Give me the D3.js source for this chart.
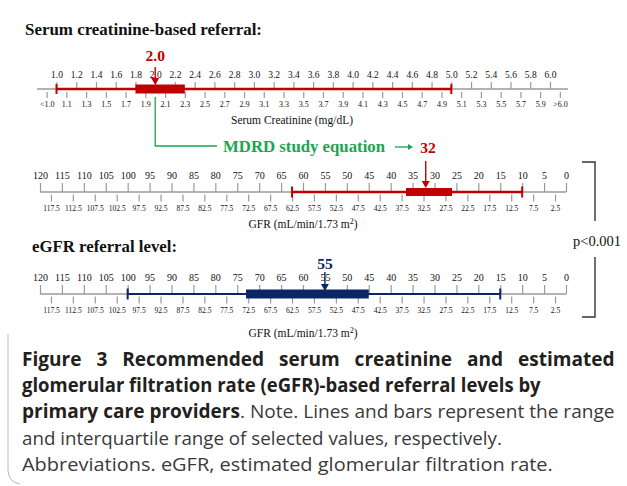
<!DOCTYPE html>
<html><head><meta charset="utf-8">
<script src="https://cdn.jsdelivr.net/npm/d3@7/dist/d3.min.js"></script>
<style>
html,body{margin:0;padding:0;background:#fff;}
svg{display:block;}
</style></head>
<body>
<script>
// ---------- data ----------
const creatTopTicks = [1.0,1.2,1.4,1.6,1.8,2.0,2.2,2.4,2.6,2.8,3.0,3.2,3.4,3.6,3.8,4.0,4.2,4.4,4.6,4.8,5.0,5.2,5.4,5.6,5.8,6.0];
const creatTopLabels = ["1.0","1.2","1.4","1.6","1.8","2.0","2.2","2.4","2.6","2.8","3.0","3.2","3.4","3.6","3.8","4.0","4.2","4.4","4.6","4.8","5.0","5.2","5.4","5.6","5.8","6.0"];
const creatBotTicks = [0.9,1.1,1.3,1.5,1.7,1.9,2.1,2.3,2.5,2.7,2.9,3.1,3.3,3.5,3.7,3.9,4.1,4.3,4.5,4.7,4.9,5.1,5.3,5.5,5.7,5.9,6.1];
const creatBotLabels = ["<1.0","1.1","1.3","1.5","1.7","1.9","2.1","2.3","2.5","2.7","2.9","3.1","3.3","3.5","3.7","3.9","4.1","4.3","4.5","4.7","4.9","5.1","5.3","5.5","5.7","5.9",">6.0"];
const gfrTopTicks = [120,115,110,105,100,95,90,85,80,75,70,65,60,55,50,45,40,35,30,25,20,15,10,5,0];
const gfrBotTicks = [117.5,112.5,107.5,102.5,97.5,92.5,87.5,82.5,77.5,72.5,67.5,62.5,57.5,52.5,47.5,42.5,37.5,32.5,27.5,22.5,17.5,12.5,7.5,2.5];
// [min, q1, median, q3, max]
const creatSummary = [1.0, 1.8, 2.0, 2.3, 5.0];
const mdrdSummary  = [62.5, 36.5, 32, 26, 10];   // GFR from MDRD equation (high -> low)
const egfrSummary  = [100, 73, 55, 45, 15];
const medianLabels = ["2.0", "32", "55"];
const captionLines = [
  [{t:"Figure 3 Recommended serum creatinine and estimated", b:true}],
  [{t:"glomerular filtration rate (eGFR)-based referral levels by", b:true}],
  [{t:"primary care providers", b:true},{t:". Note. Lines and bars represent the range", b:false}],
  [{t:"and interquartile range of selected values, respectively.", b:false}],
  [{t:"Abbreviations. eGFR, estimated glomerular filtration rate.", b:false}]
];

// ---------- drawing ----------
const W = 627, H = 486;
const svg = d3.select("body").append("svg").attr("width", W).attr("height", H);
const RED = "#c00000", BLUE = "#0b2566", GREEN = "#1aa64f", GRAY = "#9a9a9a";
const serif = "'Liberation Serif','Times New Roman',serif";

const xC = d3.scaleLinear().domain([1.0, 6.0]).range([56.5, 550]);
const xG = d3.scaleLinear().domain([120, 0]).range([40, 566]);

function ruler(scale, y, topV, topL, botV, botL, ext, o) {
  const g = svg.append("g");
  g.append("line").attr("x1", ext[0]).attr("x2", ext[1]).attr("y1", y).attr("y2", y)
    .attr("stroke", GRAY).attr("stroke-width", 1.3);
  const top = g.append("g").attr("transform", `translate(0,${y})`)
    .call(d3.axisTop(scale).tickValues(topV).tickSize(o.topLen).tickPadding(o.topPad)
      .tickFormat((d,i) => topL[i]));
  const bot = g.append("g").attr("transform", `translate(0,${y + o.botGap})`)
    .call(d3.axisBottom(scale).tickValues(botV).tickSize(o.botLen).tickPadding(o.botPad)
      .tickFormat((d,i) => botL[i]));
  [top, bot].forEach(a => {
    a.select(".domain").remove();
    a.selectAll(".tick line").attr("stroke", GRAY).attr("stroke-width", 1.2);
    a.selectAll(".tick text").attr("fill", "#111").attr("font-family", serif);
  });
  top.selectAll(".tick text").attr("font-size", o.topFont);
  bot.selectAll(".tick text").attr("font-size", o.botFont);
  return g;
}

function rangeMark(scale, y, s, color, lw, bh, capH) {
  const g = svg.append("g");
  g.append("line").attr("x1", scale(s[0])).attr("x2", scale(s[4])).attr("y1", y).attr("y2", y)
    .attr("stroke", color).attr("stroke-width", lw);
  [s[0], s[4]].forEach(v => g.append("line").attr("x1", scale(v)).attr("x2", scale(v))
    .attr("y1", y - capH/2).attr("y2", y + capH/2).attr("stroke", color).attr("stroke-width", 2));
  const a = Math.min(scale(s[1]), scale(s[3])), b = Math.max(scale(s[1]), scale(s[3]));
  g.append("rect").attr("x", a).attr("y", y - bh/2).attr("width", b - a).attr("height", bh).attr("fill", color);
}

function medianArrow(scale, v, y1, y2, color, label, ly, lx) {
  const x = scale(v);
  svg.append("line").attr("x1", x).attr("x2", x).attr("y1", y1).attr("y2", y2 - 5)
    .attr("stroke", color).attr("stroke-width", 1.4);
  svg.append("path").attr("d", `M${x-4},${y2-7}L${x+4},${y2-7}L${x},${y2}Z`).attr("fill", color);
  if (label) svg.append("text").attr("x", lx !== undefined ? lx : x).attr("y", ly).attr("text-anchor", "middle")
    .attr("font-family", serif).attr("font-weight", "bold").attr("font-size", 15.5).attr("fill", color).text(label);
}

function fitText(t, w) {
  const nat = t.node().getComputedTextLength();
  t.attr("textLength", w).attr("lengthAdjust", "spacingAndGlyphs");
}

// Title 1
svg.append("text").attr("x", 25).attr("y", 35).attr("font-family", serif).attr("font-weight", "bold")
  .attr("font-size", 17).attr("fill", "#111").text("Serum creatinine-based referral:").call(fitText, 237);

// Creatinine ruler
const yC = 89;
ruler(xC, yC, creatTopTicks, creatTopLabels, creatBotTicks, creatBotLabels, [37, 568],
  {topLen: 7, topPad: 4, botGap: 3, botLen: 6, botPad: 3, topFont: 9.5, botFont: 8});
rangeMark(xC, yC, creatSummary, RED, 2.6, 9, 10);
medianArrow(xC, creatSummary[2], 67, 85, RED, medianLabels[0], 61);
svg.append("text").attr("x", 292).attr("y", 124).attr("text-anchor", "middle").attr("font-family", serif)
  .attr("font-size", 11.5).attr("fill", "#111").text("Serum Creatinine (mg/dL)");

// Green connector
svg.append("path").attr("d", `M${xC(creatSummary[2])},97V146H217`).attr("fill", "none")
  .attr("stroke", GREEN).attr("stroke-width", 1.3);
svg.append("text").attr("x", 223).attr("y", 152).attr("font-family", serif).attr("font-weight", "bold")
  .attr("font-size", 16.5).attr("fill", GREEN).text("MDRD study equation").call(fitText, 162);
svg.append("line").attr("x1", 395).attr("x2", 409).attr("y1", 147).attr("y2", 147).attr("stroke", GREEN).attr("stroke-width", 1.3);
svg.append("path").attr("d", "M408,144L413,147L408,150Z").attr("fill", GREEN);

// MDRD GFR ruler
const yM = 192;
ruler(xG, yM, gfrTopTicks, gfrTopTicks.map(String), gfrBotTicks, gfrBotTicks.map(String), [40, 566],
  {topLen: 9, topPad: 4, botGap: 2.5, botLen: 7, botPad: 4, topFont: 10, botFont: 7.5});
rangeMark(xG, yM, mdrdSummary, RED, 2.6, 8, 11);
medianArrow(xG, mdrdSummary[2], 161, 188, RED, medianLabels[1], 153, 428);
svg.append("text").attr("x", 303).attr("y", 228).attr("text-anchor", "middle").attr("font-family", serif)
  .attr("font-size", 11.5).attr("fill", "#111")
  .call(t => { t.append("tspan").text("GFR (mL/min/1.73 m"); t.append("tspan").attr("dy", -4).attr("font-size", 8).text("2"); t.append("tspan").attr("dy", 4).text(")"); });

// eGFR title
svg.append("text").attr("x", 32).attr("y", 252).attr("font-family", serif).attr("font-weight", "bold")
  .attr("font-size", 17).attr("fill", "#111").text("eGFR referral level:").call(fitText, 145);

const yE = 294;
ruler(xG, yE, gfrTopTicks, gfrTopTicks.map(String), gfrBotTicks, gfrBotTicks.map(String), [40, 566],
  {topLen: 9, topPad: 4, botGap: 2.5, botLen: 7, botPad: 4, topFont: 10, botFont: 7.5});
rangeMark(xG, yE, egfrSummary, BLUE, 2, 9, 11);
medianArrow(xG, egfrSummary[2], 272, 291, BLUE, medianLabels[2], 269);
svg.append("text").attr("x", 303).attr("y", 337).attr("text-anchor", "middle").attr("font-family", serif)
  .attr("font-size", 11.5).attr("fill", "#111")
  .call(t => { t.append("tspan").text("GFR (mL/min/1.73 m"); t.append("tspan").attr("dy", -4).attr("font-size", 8).text("2"); t.append("tspan").attr("dy", 4).text(")"); });

// p-value bracket
svg.append("path").attr("d", "M582,162H595V221").attr("fill", "none").attr("stroke", "#333").attr("stroke-width", 1.4);
svg.append("path").attr("d", "M595,257V317H582").attr("fill", "none").attr("stroke", "#333").attr("stroke-width", 1.4);
svg.append("text").attr("x", 573).attr("y", 246).attr("font-family", serif).attr("font-size", 14.5)
  .attr("fill", "#111").text("p<0.001");

// panel border
svg.append("path").attr("d", "M8,334V470Q8,482 20,484").attr("fill", "none").attr("stroke", "#bbb").attr("stroke-width", 1);

// Caption
const capFont = "'Open Sans','Noto Sans',sans-serif";
const capTargets = [593, 519, 593, 480, 531];
const justify = [true, false, true, false, false];
const capTexts = captionLines.map((line, i) => {
  const t = svg.append("text").attr("x", 0).attr("y", 0)
    .attr("font-family", capFont).attr("font-size", 19);
  line.forEach(s => t.append("tspan").attr("font-weight", s.b ? "bold" : "normal")
    .attr("fill", s.b ? "#231f20" : "#3a3a3a").text(s.t));
  return t;
});
// horizontal condensation ratio from the non-justified lines
const ratios = capTexts.map((t, i) => capTargets[i] / t.node().getComputedTextLength());
const rAvg = d3.mean(ratios.filter((r, i) => !justify[i]));
capTexts.forEach((t, i) => {
  const y = 366 + i * 26.2;
  const full = captionLines[i].map(s => s.t).join("");
  if (justify[i]) {
    const nat = t.node().getComputedTextLength();
    const spaces = full.split(" ").length - 1;
    const ws = (capTargets[i] / rAvg - nat) / spaces;
    t.attr("word-spacing", ws).attr("transform", `translate(22,${y}) scale(${rAvg},1)`);
  } else {
    t.attr("transform", `translate(22,${y}) scale(${ratios[i]},1)`);
  }
});
</script>
</body></html>
